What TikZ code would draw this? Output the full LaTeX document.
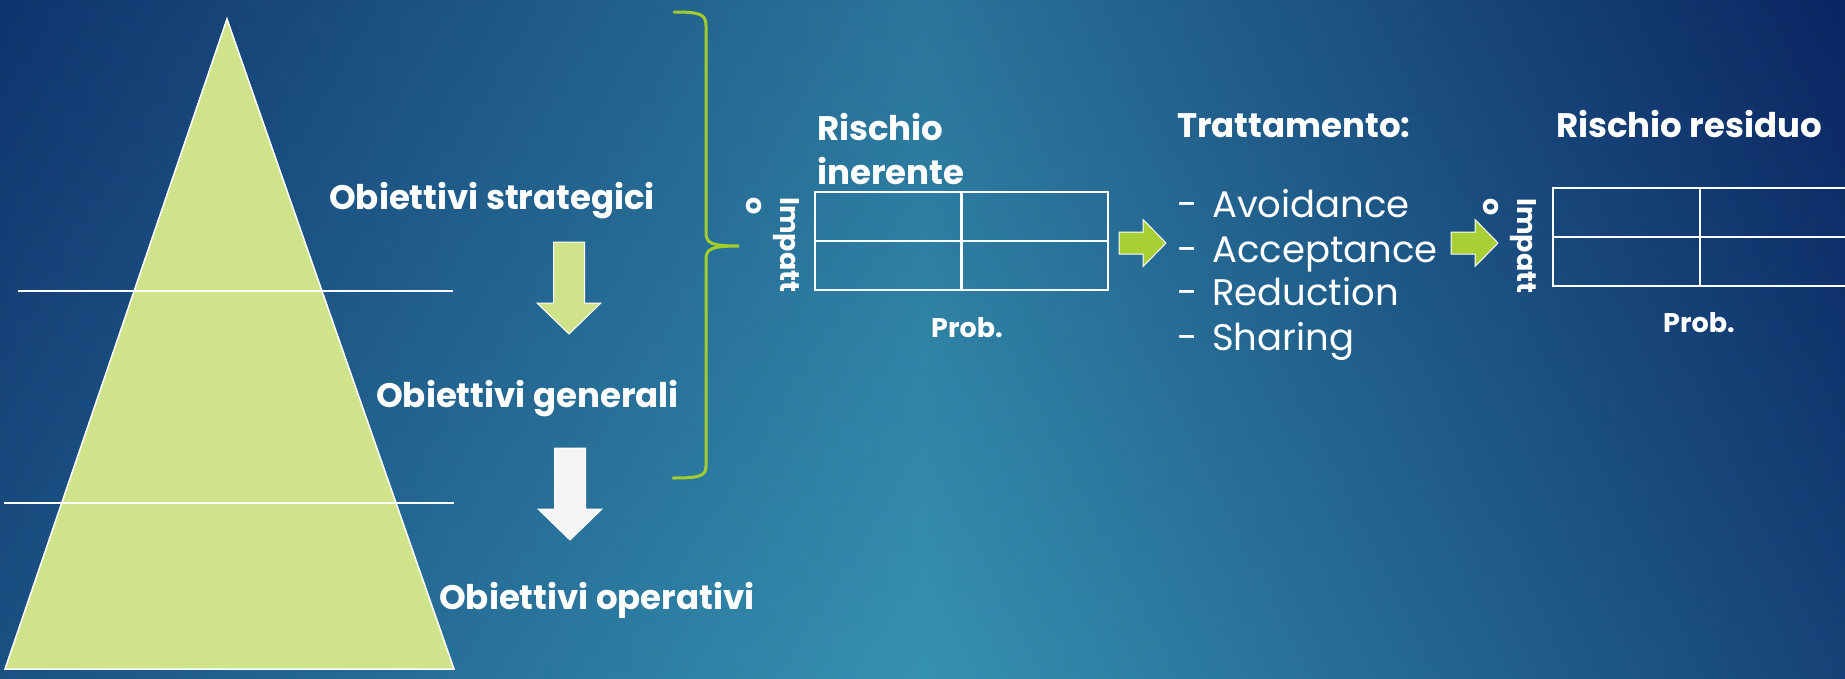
\documentclass[tikz,border=0pt]{standalone}
\usepackage{fontspec}
\setmainfont{Poppins}
\usepackage{tikz}
\usetikzlibrary{positioning}

\definecolor{bgleft}{HTML}{123B74}
\definecolor{bgmid}{HTML}{3692B1}
\definecolor{bgright}{HTML}{0B2865}
\definecolor{bgdark}{HTML}{0A1F5A}
\definecolor{pyramid}{HTML}{CFE48A}
\definecolor{lime}{HTML}{A8CF36}
\definecolor{bracegreen}{HTML}{A3CC2E}
\definecolor{offwhite}{HTML}{F5F5F5}

\tikzset{
  heading/.style={text=white, font=\bfseries\fontsize{34}{44}\selectfont, inner sep=0pt, anchor=base west},
  listitem/.style={text=white, font=\fontsize{37}{44}\selectfont, inner sep=0pt, anchor=base west},
  axislabel/.style={text=white, font=\bfseries\fontsize{27}{34}\selectfont, inner sep=0pt},
  matrixline/.style={draw=white, line width=2.5pt},
}

\begin{document}
\begin{tikzpicture}[x=1pt, y=-1pt]
   \useasboundingbox (0,0) rectangle (1845,678);
   % background
   \shade[left color=bgleft, right color=bgright, middle color=bgmid] (0,0) rectangle (1845,678);
   \shade[top color=bgdark, bottom color=bgmid, opacity=0.25] (0,0) rectangle (1845,678);

   % pyramid
   \coordinate (apex) at (227,19);
   \coordinate (baseL) at (5,669);
   \coordinate (baseR) at (454,669);
   \filldraw[fill=pyramid, draw=white, line width=1.5pt] (apex) -- (baseR) -- (baseL) -- cycle;
   \draw[white, line width=1.5pt] (18,291) -- (453,291);
   \draw[white, line width=1.5pt] (4,503) -- (454,503);

   \node[heading] (strat) at (329,209) {Obiettivi strategici};
   \node[heading] (gen) at (376,407) {Obiettivi generali};
   \node[heading] (oper) at (439,609) {Obiettivi operativi};

   % down arrows
   \foreach \cx/\ty/\col in {569/242/pyramid, 570/448/offwhite}{
      \filldraw[fill=\col, draw=white, line width=1pt] (\cx-15.5,\ty) -- (\cx+15.5,\ty) -- (\cx+15.5,\ty+61)
         -- (\cx+32,\ty+61) -- (\cx,\ty+92) -- (\cx-32,\ty+61) -- (\cx-15.5,\ty+61) -- cycle;
   }

   % brace
   \coordinate (braceT) at (674,12);
   \coordinate (braceM) at (739,246);
   \coordinate (braceB) at (673,478);
   \draw[bracegreen, line width=3pt, line cap=round] (braceT) .. controls (700,12) and (706,14) .. (706,26)
      -- (706,232) .. controls (706,243) and (710,246) .. (braceM)
      .. controls (710,246) and (706,249) .. (706,260)
      -- (706,466) .. controls (706,476) and (700,478) .. (braceB);

   % rischio inerente
   \node[heading, align=left] (inerente) at (817,184) {Rischio\\inerente};
   \node[matrixline, minimum width=293pt, minimum height=98pt] (matA) at (961.5,241) {};
   \draw[matrixline] (matA.north) -- (matA.south);
   \draw[matrixline] (matA.west) -- (matA.east);
   \node[axislabel, anchor=base] (probA) at (967,337) {Prob.};
   \node[axislabel, rotate=-90, align=left, anchor=north west] (impA) at (800,197) {Impatt\\o};

   % right arrows
   \foreach \lx in {1119, 1451}{
      \filldraw[fill=lime, draw=white, line width=1pt] (\lx,232) -- (\lx+24,232) -- (\lx+24,219.5)
         -- (\lx+47,243) -- (\lx+24,266.5) -- (\lx+24,254) -- (\lx,254) -- cycle;
   }

   % trattamento
   \node[heading] (tratt) at (1177,137) {Trattamento:};
   \foreach \y/\w in {217/Avoidance, 262/Acceptance, 305/Reduction, 350/Sharing}{
      \node[listitem] (dash\w) at (1177,\y) {-};
      \node[listitem] (\w) at (1212,\y) {\w};
   }

   % rischio residuo
   \node[heading] (residuo) at (1556,137) {Rischio residuo};
   \node[matrixline, minimum width=294pt, minimum height=98pt] (matB) at (1700,237) {};
   \draw[matrixline] (matB.north) -- (matB.south);
   \draw[matrixline] (matB.west) -- (matB.east);
   \node[axislabel, anchor=base] (probB) at (1699,332) {Prob.};
   \node[axislabel, rotate=-90, align=left, anchor=north west] (impB) at (1537,198) {Impatt\\o};
\end{tikzpicture}
\end{document}
